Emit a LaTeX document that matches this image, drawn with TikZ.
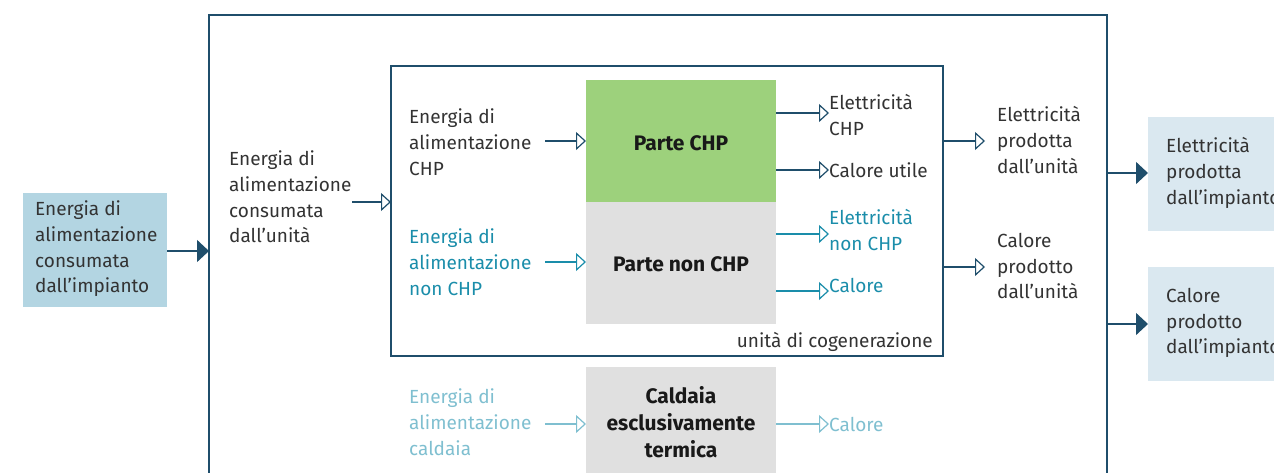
\documentclass[tikz,border=0pt]{standalone}
\usepackage{fontspec}
\setmainfont{Fira Sans}
\usetikzlibrary{arrows.meta}
\definecolor{navy}{HTML}{1F4E6B}
\definecolor{txt}{HTML}{333333}
\definecolor{teal}{HTML}{1A8DAA}
\definecolor{ltblue}{HTML}{7FBFD0}
\definecolor{boxblue}{HTML}{B3D5E2}
\definecolor{boxpale}{HTML}{DAE8F0}
\definecolor{chpgreen}{HTML}{9DD17C}
\definecolor{boxgray}{HTML}{E0E0E0}
\tikzset{
  lbl/.style={anchor=west,align=left,font=\fontsize{19}{25.7}\selectfont,text=txt,inner sep=0pt},
  openarr/.style={draw=navy,line width=1.2pt,-{Triangle[open,length=10pt,width=18pt,line width=1.2pt]}},
  fillarr/.style={draw=navy,line width=1.4pt,-{Triangle[length=12pt,width=22pt]}},
  blk/.style={inner sep=0pt,font=\fontsize{21}{27}\selectfont\bfseries,text=black!90,align=center}
}
\begin{document}
\begin{tikzpicture}[x=1pt,y=-1pt]
\useasboundingbox (0,0) rectangle (1274,472);
\clip (0,0) rectangle (1274,472);
% frames
\draw[navy,line width=1.2pt] (209,15) rectangle (1107,490);
\draw[navy,line width=1.2pt] (391,66) rectangle (943,356);
% blocks
\path[fill=chpgreen] (586,80) rectangle (776,202);
\path[fill=boxgray] (586,202) rectangle (776,324);
\path[fill=boxgray] (586,367) rectangle (776,490);
\node[blk] (chp) at (681,143) {Parte CHP};
\node[blk] (nonchp) at (681,264) {Parte non CHP};
\node[blk] (cald) at (681,422) {Caldaia\\esclusivamente\\termica};
\coordinate (chpW) at (586,141);
\coordinate (nonchpW) at (586,262);
\coordinate (caldW) at (586,424);
% left box
\path[fill=boxblue] (23,193) rectangle (167,307);
\node[lbl] (inimp) at (35,249) {Energia di\\alimentazione\\consumata\\dall’impianto};
\coordinate (inimpE) at (167,251);
\coordinate (frameW) at (209,251);
\draw[fillarr] (inimpE) -- (frameW);
% outer left text
\node[lbl] (inunit) at (229,197) {Energia di\\alimentazione\\consumata\\dall’unità};
\coordinate (inunitE) at (352,202);
\coordinate (cogW) at (391,202);
\draw[openarr] (inunitE) -- (cogW);
% inner inputs
\node[lbl] (inchp) at (409,142) {Energia di\\alimentazione\\CHP};
\node[lbl,text=teal] (innon) at (409,262) {Energia di\\alimentazione\\non CHP};
\node[lbl,text=ltblue] (incald) at (409,422) {Energia di\\alimentazione\\caldaia};
\coordinate (inchpE) at (545,141);
\coordinate (innonE) at (545,262);
\coordinate (incaldE) at (545,424);
\draw[openarr] (inchpE) -- (chpW);
\draw[openarr,draw=teal] (innonE) -- (nonchpW);
\draw[openarr,draw=ltblue] (incaldE) -- (caldW);
% outputs
\node[lbl] (elchp) at (829,115) {Elettricità\\CHP};
\node[lbl] (calut) at (829,170) {Calore utile};
\node[lbl,text=teal] (elnon) at (829,230) {Elettricità\\non CHP};
\node[lbl,text=teal] (calnon) at (829,285) {Calore};
\node[lbl,text=ltblue] (calcald) at (829,424) {Calore};
\coordinate (o1) at (776,113);
\coordinate (o2) at (776,170);
\coordinate (o3) at (776,234);
\coordinate (o4) at (776,291);
\coordinate (o5) at (776,424);
\draw[openarr] (o1) -- (elchp.west |- o1);
\draw[openarr] (o2) -- (calut.west |- o2);
\draw[openarr,draw=teal] (o3) -- (elnon.west |- o3);
\draw[openarr,draw=teal] (o4) -- (calnon.west |- o4);
\draw[openarr,draw=ltblue] (o5) -- (calcald.west |- o5);
% unit outputs
\node[lbl] (elun) at (997,140) {Elettricità\\prodotta\\dall’unità};
\node[lbl] (calun) at (997,266) {Calore\\prodotto\\dall’unità};
\coordinate (cogE1) at (943,141);
\coordinate (cogE2) at (943,267);
\draw[openarr] (cogE1) -- ++(42,0);
\draw[openarr] (cogE2) -- ++(42,0);
% plant outputs
\path[fill=boxpale] (1148,117) rectangle (1290,231);
\path[fill=boxpale] (1148,267) rectangle (1290,381);
\node[lbl] (elimp) at (1166,173) {Elettricità\\prodotta\\dall’impianto};
\node[lbl] (calimp) at (1166,323) {Calore\\prodotto\\dall’impianto};
\coordinate (frE1) at (1107,173);
\coordinate (frE2) at (1107,324);
\draw[fillarr] (frE1) -- (1148,173);
\draw[fillarr] (frE2) -- (1148,324);
% label
\node[lbl,anchor=east] (cogl) at (933,342) {unità di cogenerazione};
\end{tikzpicture}
\end{document}
